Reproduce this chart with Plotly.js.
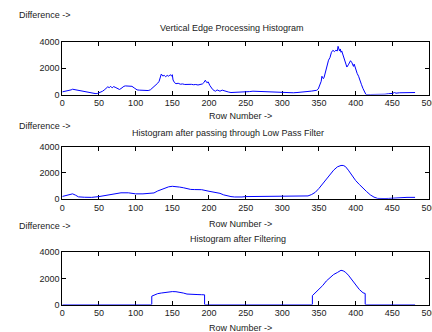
<!DOCTYPE html>
<html>
<head>
<meta charset="utf-8">
<script src="https://cdn.plot.ly/plotly-3.0.1.min.js"></script>
<style>html,body{margin:0;padding:0;background:#fff}#chart{width:432px;height:332px}</style>
</head>
<body>
<div id="chart"></div>
<script>
// Raw vertical edge histogram
var rawRows = [0,3,6,9,12,14,16,19,22,26,30,34,38,42,46,48,50,52,55,58,60,62,64,66,68,70,72,74,76,78,80,82,84,86,88,90,92,95,98,100,102,105,108,111,114,117,120,122,124,126,128,130,132,134,135,137,139,141,143,145,147,149,150,151,153,155,158,161,164,167,170,173,176,179,182,185,188,191,193,195,197,199,201,203,205,207,209,211,213,215,218,221,224,227,230,235,240,245,250,255,260,265,270,275,280,285,290,295,300,305,310,315,320,325,330,335,340,344,347,349,351,353,354,356,357,359,361,363,365,367,369,371,373,375,376,377,378,379,380,381,382,384,386,388,390,392,393,395,397,398,400,402,404,406,408,410,412,414,420,430,440,445,450,453,455,460,470,481];
var rawDiff = [200,230,260,300,350,400,380,320,290,250,200,170,130,100,60,80,120,180,250,380,500,580,520,620,500,600,550,480,420,380,450,550,620,650,640,660,650,620,500,400,350,330,310,300,320,300,350,450,500,600,700,850,1000,1300,1550,1400,1450,1350,1450,1380,1500,1400,1500,1100,900,820,850,780,800,760,780,750,770,740,760,720,750,800,900,1080,900,950,700,500,380,300,250,350,300,250,330,260,200,180,150,160,170,150,200,220,250,240,230,200,210,180,150,180,140,170,160,130,150,160,200,230,260,300,320,420,700,1000,1380,1200,1300,1800,2300,2600,2800,3200,3350,3250,3350,3300,3650,3450,3300,3450,3200,3300,3140,2850,2500,2080,2250,2450,2560,2400,2130,2300,1900,1600,1380,1000,740,450,150,0,0,0,20,60,80,150,100,130,150,150];

// After low pass filter
var lpfRows = [0,5,10,14,18,22,30,40,50,60,70,75,80,90,100,110,120,125,130,135,140,145,150,155,160,165,170,175,180,190,200,210,215,220,225,230,235,240,245,250,260,280,300,320,330,335,340,345,350,355,360,365,370,375,380,383,386,390,395,400,405,410,415,420,425,430,435,440,445,450,455,460,470,481];
var lpfDiff = [180,250,300,380,280,150,120,110,170,260,380,450,460,460,380,380,400,450,600,720,850,920,960,950,900,850,780,720,710,700,580,490,420,300,220,170,140,120,140,170,170,170,170,170,180,220,330,500,800,1150,1500,1850,2200,2450,2560,2560,2480,2200,1800,1400,1100,800,550,300,130,30,10,20,30,50,60,100,110,110];

// After filtering (thresholded)
var fltRows = [0,122,122,125,130,135,140,145,150,155,160,165,170,175,180,185,190,194,194,341,341,345,350,355,360,365,370,375,380,383,386,390,395,400,405,410,413,413,481];
var fltDiff = [0,0,640,720,830,880,930,970,990,980,950,880,800,770,760,760,750,740,0,0,680,900,1100,1450,1800,2050,2300,2450,2620,2580,2480,2250,1900,1500,1150,900,840,0,0];

var xTickVals = [0,50,100,150,200,250,300,350,400,450,500];
var yTickVals = [0,2000,4000];
var titles = ['Vertical Edge Processing Histogram', 'Histogram after passing through Low Pass Filter', 'Histogram after Filtering'];
var yLabel = 'Difference ->';
var xLabel = 'Row Number ->';

var W = 432, H = 332;
function px(x){return x/W;}
function py(y){return 1 - y/H;}

var yDomains = [[py(94.5), py(41.7)], [py(198.8), py(146.7)], [py(304.5), py(252.3)]];
var xDomain = [px(62.3), px(429)];
var font = {family: 'Liberation Sans, Arial, sans-serif', size: 9, color: '#222'};

var series = [[rawRows, rawDiff], [lpfRows, lpfDiff], [fltRows, fltDiff]];
var data = series.map(function(s, i){
  return {x: s[0], y: s[1], type: 'scatter', mode: 'lines',
    line: {color: '#0000ff', width: 1},
    xaxis: i === 0 ? 'x' : 'x' + (i+1), yaxis: i === 0 ? 'y' : 'y' + (i+1),
    hoverinfo: 'skip'};
});

var layout = {width: W, height: H, margin: {l:0, r:0, t:0, b:0},
  paper_bgcolor: '#fff', plot_bgcolor: '#fff', showlegend: false, font: font, annotations: []};

var titleY = [28, 133, 239];
var titleX = [232, 228, 238];
var yLabY = [15, 126, 226];
var xLabY = [116.5, 224.3, 327.5];
for (var i = 0; i < 3; i++) {
  var sx = i === 0 ? '' : String(i+1);
  var common = {showgrid: false, zeroline: false, showline: true, linecolor: '#000', linewidth: 1,
    mirror: 'ticks', ticks: 'inside', ticklen: 4, tickcolor: '#000', tickwidth: 1,
    tickfont: font, layer: 'below traces', fixedrange: true, ticklabeloverflow: 'allow'};
  layout['xaxis' + sx] = Object.assign({}, common, {domain: xDomain, range: [0, 500],
    tickvals: xTickVals, ticktext: xTickVals.map(String), anchor: 'y' + sx});
  layout['yaxis' + sx] = Object.assign({}, common, {domain: yDomains[i], range: [0, 4000],
    tickvals: yTickVals, ticktext: yTickVals.map(String), anchor: 'x' + sx});
  layout.annotations.push({text: titles[i], xref: 'paper', yref: 'paper', x: px(titleX[i]), y: py(titleY[i]),
    xanchor: 'center', yanchor: 'middle', showarrow: false, font: font});
  layout.annotations.push({text: yLabel, xref: 'paper', yref: 'paper', x: px(16.7), y: py(yLabY[i]),
    xanchor: 'left', yanchor: 'middle', showarrow: false, font: font});
  layout.annotations.push({text: xLabel, xref: 'paper', yref: 'paper', x: px(240), y: py(xLabY[i]),
    xanchor: 'center', yanchor: 'middle', showarrow: false, font: font});
}

Plotly.newPlot('chart', data, layout, {displayModeBar: false, staticPlot: true});
</script>
</body>
</html>
